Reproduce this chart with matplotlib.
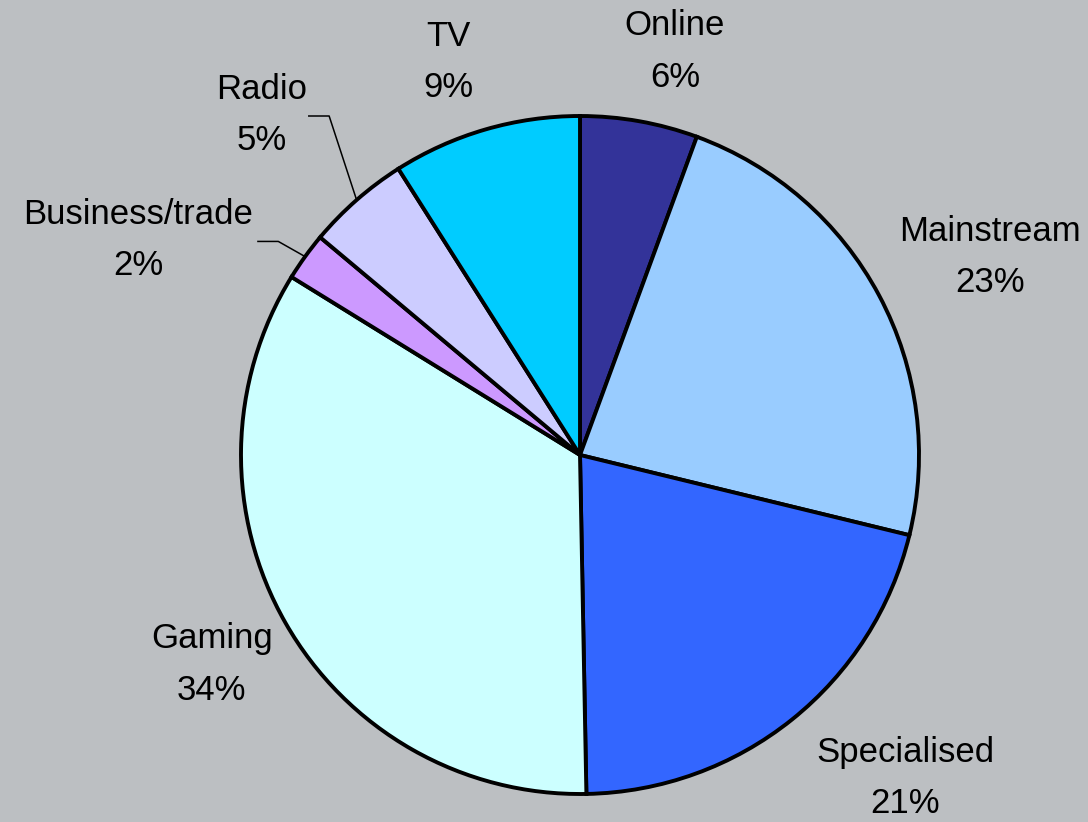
import numpy as np
import matplotlib
matplotlib.use("Agg")
import matplotlib.pyplot as plt

plt.rcParams['font.family'] = ['Liberation Sans', 'DejaVu Sans']

categories = ["Online", "Mainstream", "Specialised", "Gaming", "Business/trade", "Radio", "TV"]
shares = [5.6, 23.2, 20.9, 34.1, 2.3, 4.9, 9.0]
colors = ["#333399", "#99CCFF", "#3366FF", "#CCFFFF", "#CC99FF", "#CCCCFF", "#00CCFF"]

# label centres (data units, pie radius = 1)
label_pos = {
    "Online": (0.28, 1.19),
    "Mainstream": (1.21, 0.584),
    "Specialised": (0.96, -0.953),
    "Gaming": (-1.086, -0.617),
    "Business/trade": (-1.304, 0.634),
    "Radio": (-0.938, 1.003),
    "TV": (-0.389, 1.159),
}
# leader lines: horizontal stub start/end (x) at given y, then to wedge edge
leaders = {
    "Radio": (-0.80, -0.74, 1.00),
    "Business/trade": (-0.95, -0.89, 0.63),
}

bg = "#BCBFC2"
fig = plt.figure(figsize=(10.88, 8.22), dpi=100, facecolor=bg)
ax = fig.add_axes([0, 0, 1, 1])
ax.set_facecolor(bg)

wedges, _ = ax.pie(shares, colors=colors, startangle=90, counterclock=False,
                   radius=1.0, center=(0, 0),
                   wedgeprops=dict(edgecolor="black", linewidth=2.8))

ax.set_xlim(-580 / 339, 508 / 339)
ax.set_ylim(-367 / 339, 455 / 339)
ax.set_aspect("equal")
ax.axis("off")

for name, val, w in zip(categories, shares, wedges):
    x, y = label_pos[name]
    ax.text(x, y, f"{name}\n{val:.0f}%", ha="center", va="center",
            fontsize=25, color="black", linespacing=1.72)
    if name in leaders:
        x0, x1, ly = leaders[name]
        mid = np.deg2rad((w.theta1 + w.theta2) / 2)
        ex, ey = np.cos(mid), np.sin(mid)
        ax.plot([x0, x1, ex], [ly, ly, ey], color="black", lw=1.1)

fig.savefig("out.png", dpi=100, facecolor=bg)
